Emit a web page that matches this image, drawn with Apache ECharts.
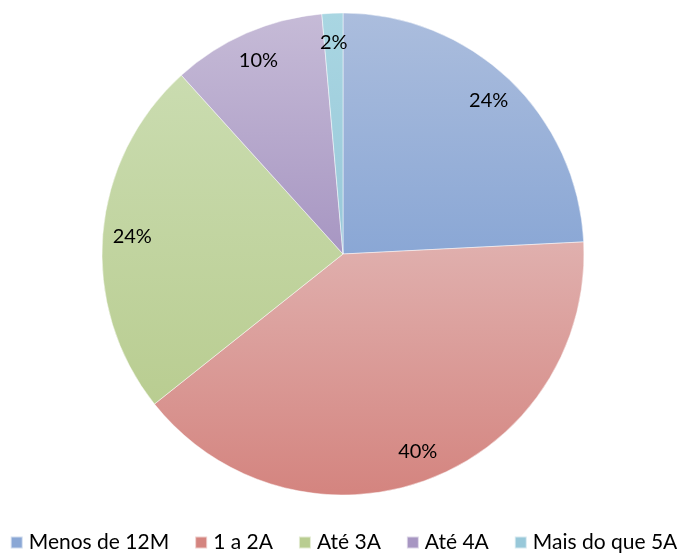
<!DOCTYPE html>
<html>
<head>
<meta charset="utf-8">
<script src="https://cdn.jsdelivr.net/npm/echarts@6/dist/echarts.min.js"></script>
<style>
  html, body { margin: 0; padding: 0; background: #fff; }
  #chart { width: 687px; height: 554px; }
</style>
</head>
<body>
<div id="chart"></div>
<script>
// dados
const categories = ["Menos de 12M", "1 a 2A", "Até 3A", "Até 4A", "Mais do que 5A"];
const values = [24.2, 40.1, 24.0, 10.3, 1.4];
const labels = ["24%", "40%", "24%", "10%", "2%"];
// cores: topo claro -> base escura
const topColors = ["#abbddd", "#e0b0ae", "#cadcb0", "#c6bbd7", "#a9d6e2"];
const bottomColors = ["#8aa7d5", "#d4847f", "#b9cd91", "#a796c2", "#98c8d9"];

const center = [343, 254];
const R = 241;

function grad(i) {
  return new echarts.graphic.LinearGradient(0, 0, 0, 1, [
    { offset: 0, color: topColors[i] },
    { offset: 1, color: bottomColors[i] }
  ]);
}

const pieData = categories.map((name, i) => ({
  name: name,
  value: values[i],
  itemStyle: { color: grad(i) }
}));

// serie transparente só para posicionar os rótulos perto da borda
const labelData = categories.map((name, i) => ({
  name: name,
  value: values[i],
  label: { formatter: labels[i] }
}));

const chart = echarts.init(document.getElementById("chart"));
chart.setOption({
  animation: false,
  textStyle: { fontFamily: "Lato, 'Open Sans', sans-serif" },
  legend: {
    bottom: -4,
    left: "center",
    itemWidth: 12,
    itemHeight: 12,
    itemGap: 25,
    icon: "rect",
    textStyle: { fontSize: 21, color: "#000", fontFamily: "Lato, sans-serif", padding: [0, 0, 0, 1] },
    data: categories.map((name, i) => ({ name: name, itemStyle: { color: bottomColors[i] } }))
  },
  series: [
    {
      type: "pie",
      center: center,
      radius: [0, R],
      startAngle: 90,
      clockwise: true,
      silent: true,
      label: { show: false },
      labelLine: { show: false },
      itemStyle: { borderColor: "rgba(255,255,255,0.6)", borderWidth: 0.8 },
      data: pieData
    },
    {
      type: "pie",
      center: center,
      radius: [R * 0.73, R],
      startAngle: 90,
      clockwise: true,
      silent: true,
      legendHoverLink: false,
      itemStyle: { color: "transparent" },
      label: {
        show: true,
        position: "inside",
        fontSize: 20,
        color: "#000",
        fontFamily: "Lato, sans-serif"
      },
      labelLine: { show: false },
      data: labelData
    }
  ]
});
</script>
</body>
</html>
